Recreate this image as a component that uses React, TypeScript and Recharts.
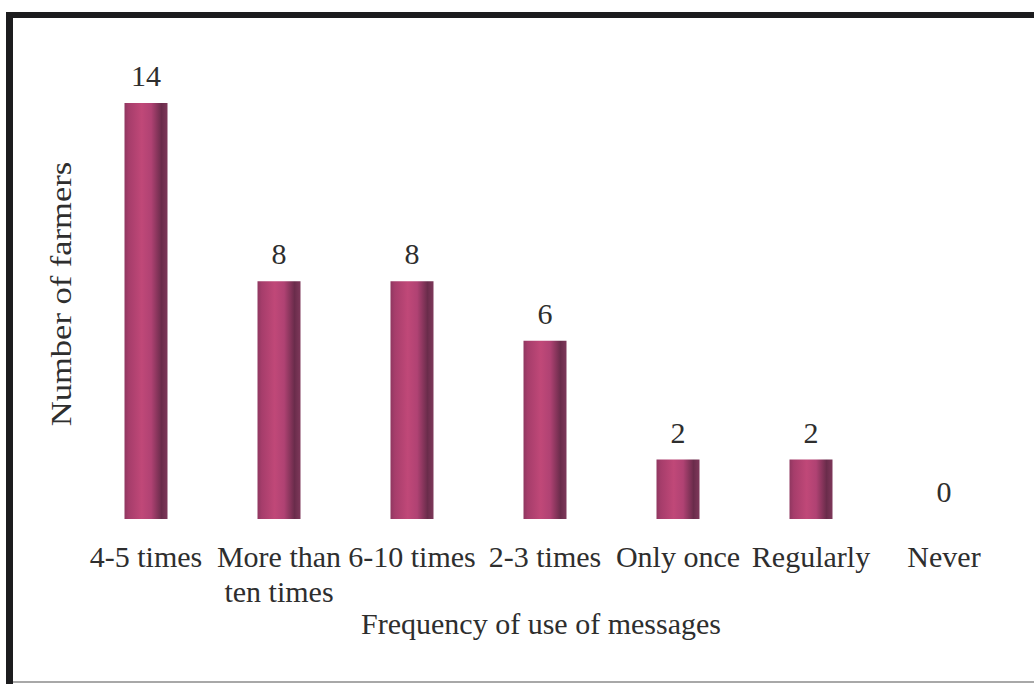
import React from 'react';
import { ComposedChart, Bar, Line, XAxis, YAxis, LabelList } from 'recharts';

// How often farmers used the messages
const categories = [
  '4-5 times',
  'More than ten times',
  '6-10 times',
  '2-3 times',
  'Only once',
  'Regularly',
  'Never',
];
const farmers = [14, 8, 8, 6, 2, 2, 0];
const xTitle = 'Frequency of use of messages';
const yTitle = 'Number of farmers';

const data = categories.map((category, i) => ({ category, farmers: farmers[i] }));

const FONT = '"Liberation Serif", "Times New Roman", serif';
const TEXT = '#2e2e2e';
const FS = 30;
const W = 1034;
const H = 684;

// Greedy word wrap by character count
function wrap(label: string, max = 10): string[] {
  const words = label.split(' ');
  const lines: string[] = [];
  let cur = '';
  for (const w of words) {
    const next = cur ? cur + ' ' + w : w;
    if (next.length > max && cur) {
      lines.push(cur);
      cur = w;
    } else {
      cur = next;
    }
  }
  if (cur) lines.push(cur);
  return lines;
}

const CategoryTick = (props: any) => {
  const { x, y, payload } = props;
  const lines = wrap(String(payload.value));
  return (
    <g>
      {lines.map((line, i) => (
        <text
          key={i}
          x={x}
          y={y + 40 + i * 35}
          textAnchor="middle"
          fontFamily={FONT}
          fontSize={FS}
          fill={TEXT}
        >
          {line}
        </text>
      ))}
    </g>
  );
};

const XTitle = (props: any) => {
  const vb = props.viewBox || {};
  return (
    <text
      x={vb.x + vb.width / 2 - 4}
      y={vb.y + 115}
      textAnchor="middle"
      fontFamily={FONT}
      fontSize={FS}
      fill={TEXT}
    >
      {xTitle}
    </text>
  );
};

// Vertical axis title, drawn a little elongated along its reading direction
const YTitle = (props: any) => {
  const vb = props.viewBox || {};
  const cx = vb.x - 8;
  const cy = vb.y + vb.height / 2 - 17;
  return (
    <text
      x={0}
      y={0}
      transform={`translate(${cx}, ${cy}) rotate(-90) scale(1.15, 1)`}
      textAnchor="middle"
      fontFamily={FONT}
      fontSize={FS}
      fill={TEXT}
    >
      {yTitle}
    </text>
  );
};

export default function App() {
  return (
    <div
      style={{
        position: 'absolute',
        left: 0,
        top: 0,
        width: W,
        height: H,
        background: '#ffffff',
        overflow: 'hidden',
      }}
    >
      <div style={{ position: 'absolute', left: 6, top: 12, width: W - 6, height: 6, background: '#1c1c1e' }} />
      <div style={{ position: 'absolute', left: 6, top: 12, width: 7, height: H - 12, background: '#1c1c1e' }} />
      <div style={{ position: 'absolute', left: 13, top: 681, width: W - 13, height: 2, background: '#a8a8a8' }} />
      <div style={{ position: 'absolute', left: 0, top: 0 }}>
        <ComposedChart
          width={W}
          height={H}
          data={data}
          margin={{ top: 103, right: 23.5, bottom: 105, left: 78.5 }}
          barCategoryGap={0}
        >
          <defs>
            <linearGradient id="barFill" x1="0" y1="0" x2="1" y2="0">
              <stop offset="0%" stopColor="#8f3760" />
              <stop offset="10%" stopColor="#a63d6b" />
              <stop offset="40%" stopColor="#c04878" />
              <stop offset="62%" stopColor="#b04273" />
              <stop offset="86%" stopColor="#6a2c4b" />
              <stop offset="100%" stopColor="#7e385a" />
            </linearGradient>
          </defs>
          <XAxis
            dataKey="category"
            height={60}
            axisLine={false}
            tickLine={false}
            interval={0}
            tick={<CategoryTick />}
            label={<XTitle />}
          />
          <YAxis
            width={1}
            domain={[0, 14]}
            axisLine={false}
            tickLine={false}
            tick={false}
            label={<YTitle />}
          />
          <Bar dataKey="farmers" barSize={43} fill="url(#barFill)" isAnimationActive={false} />
          {/* invisible carrier for the value labels, so a zero count still gets its label */}
          <Line
            dataKey="farmers"
            stroke="none"
            dot={false}
            activeDot={false}
            isAnimationActive={false}
          >
            <LabelList
              dataKey="farmers"
              position="top"
              offset={17}
              fontFamily={FONT}
              fontSize={FS}
              fill={TEXT}
            />
          </Line>
        </ComposedChart>
      </div>
    </div>
  );
}
